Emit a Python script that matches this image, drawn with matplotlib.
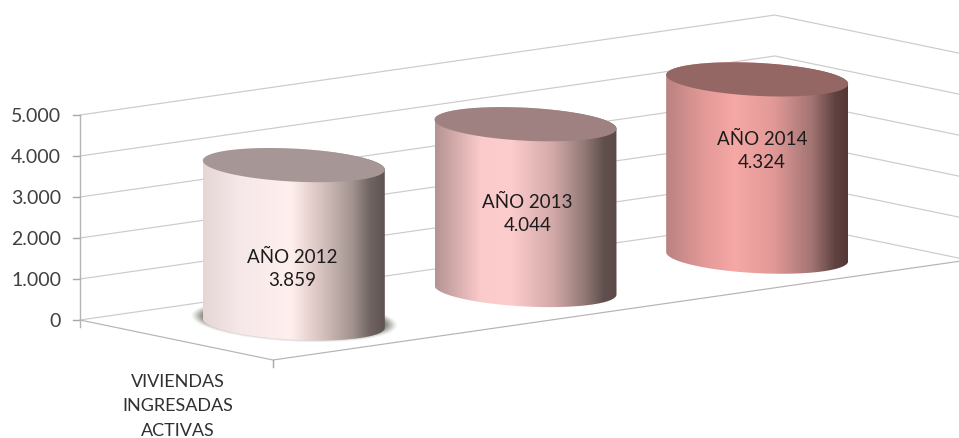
from __future__ import annotations

import matplotlib
matplotlib.use("Agg")
import matplotlib.pyplot as plt
import numpy as np
from matplotlib.colors import LinearSegmentedColormap
from matplotlib.patches import Ellipse, PathPatch
from matplotlib.path import Path

SERIES = ["AÑO 2012", "AÑO 2013", "AÑO 2014"]
VALUES = [3859, 4044, 4324]
CATEGORY = "VIVIENDAS\nINGRESADAS\nACTIVAS"
TICKS = [0, 1000, 2000, 3000, 4000, 5000]
TICK_LABELS = ["0", "1.000", "2.000", "3.000", "4.000", "5.000"]

# picture geometry of the 3D box, in pixels
ORIGIN = np.array([80.0, 321.0])
WIDTH_DIR = np.array([695.0, -100.0])
DEPTH_DIR = np.array([193.0, 40.0])
PX_PER_UNIT = 205.0 / 5000.0
RADIUS_X = 91.0
RADIUS_Y = 16.5
TILT = 0.05
CYLINDER_NUDGE = np.array([1.5, 0.0])
GRID = "#cbcbcb"

BODY_STOPS = [
    [(0, "#e6d6d6"), (0.2, "#f6e8e8"), (0.48, "#fff0ee"), (0.65, "#d8c2c0"),
     (0.82, "#a39490"), (0.92, "#6f6461"), (1, "#5f5451")],
    [(0, "#b59393"), (0.25, "#fbcaca"), (0.42, "#fdcccc"), (0.65, "#d3a9a8"),
     (0.82, "#937a77"), (0.93, "#60504d"), (1, "#5c4a48")],
    [(0, "#b98280"), (0.2, "#e29997"), (0.38, "#f6a8a6"), (0.6, "#e09896"),
     (0.8, "#a37573"), (0.93, "#5f4341"), (1, "#553836")],
]
TOP_COLORS = ["#a69696", "#9e8180", "#946664"]
LABEL_SHIFT_X = [-2, 2, 5]
LABEL_SHIFT_Y = [24, 6, -18]


def project(u: float, d: float, value: float = 0.0) -> np.ndarray:
    return ORIGIN + u * WIDTH_DIR + d * DEPTH_DIR - np.array([0.0, value * PX_PER_UNIT])


def ellipse_arc(center: np.ndarray, start: float, stop: float) -> np.ndarray:
    t = np.linspace(start, stop, 90)
    x = center[0] + RADIUS_X * np.cos(t)
    y = center[1] + RADIUS_Y * np.sin(t) + TILT * RADIUS_X * np.cos(t)
    return np.column_stack([x, y])


def draw_grid(ax) -> None:
    for value in TICKS:
        left = project(0, 0, value)
        corner = project(1, 0, value)
        right = project(1, 1, value)
        ax.plot([left[0], corner[0], right[0]], [left[1], corner[1], right[1]],
                color=GRID, lw=0.85, zorder=1)
        ax.plot([left[0] - 7, left[0]], [left[1], left[1]], color="#a8a8a8", lw=1.0, zorder=1)
    front = project(0, 1)
    ax.plot([project(0, 0)[0], front[0], project(1, 1)[0]],
            [project(0, 0)[1], front[1], project(1, 1)[1]],
            color="#b4b4b4", lw=0.85, zorder=1)
    ax.plot([front[0], front[0]], [front[1], front[1] + 7], color="#a8a8a8", lw=1.0, zorder=1)
    ax.plot([ORIGIN[0], ORIGIN[0]],
            [project(0, 0, 5000)[1], ORIGIN[1] + 7], color="#b4b4b4", lw=1.0, zorder=1)


def draw_cylinder(ax, index: int) -> None:
    u = (index + 0.5) / len(VALUES)
    value = VALUES[index]
    base = project(u, 0.5) + CYLINDER_NUDGE
    top = project(u, 0.5, value) + CYLINDER_NUDGE

    body = np.vstack([
        ellipse_arc(base, np.pi, 0),
        ellipse_arc(top, 0, -np.pi),
    ])
    body = np.vstack([body, body[0]])
    cmap = LinearSegmentedColormap.from_list(f"body{index}", BODY_STOPS[index])
    image = ax.imshow(
        np.linspace(0, 1, 256).reshape(1, -1),
        cmap=cmap,
        extent=(base[0] - RADIUS_X, base[0] + RADIUS_X, base[1] + RADIUS_Y + 8, top[1] - RADIUS_Y - 8),
        aspect="auto",
        zorder=3,
    )
    patch = PathPatch(Path(body), transform=ax.transData, facecolor="none", edgecolor="none")
    ax.add_patch(patch)
    image.set_clip_path(patch)

    cap = ellipse_arc(top, 0, 2 * np.pi)
    ax.fill(cap[:, 0], cap[:, 1], color=TOP_COLORS[index], lw=0, zorder=4)

    middle = (base[1] + top[1]) / 2 + LABEL_SHIFT_Y[index]
    ax.text(base[0] + LABEL_SHIFT_X[index], middle, f"{SERIES[index]}\n{value / 1000:.3f}",
            ha="center", va="center", fontsize=13.5, color="#1c1c1c",
            linespacing=1.4, zorder=5)


def main() -> None:
    plt.rcParams["font.family"] = ["Lato", "DejaVu Sans"]

    fig = plt.figure(figsize=(9.59, 4.39), dpi=100)
    ax = fig.add_axes([0, 0, 1, 1])
    ax.axis("off")

    draw_grid(ax)

    # soft shadow only sits under the first cylinder
    shadow = project(0.5 / 3, 0.5)
    for grow, alpha in zip(np.linspace(12, 0, 8), np.linspace(0.06, 0.24, 8)):
        ax.add_patch(Ellipse((shadow[0] + 2, shadow[1] - 3), 2 * (RADIUS_X + grow),
                             2 * (RADIUS_Y + grow * 0.4), angle=np.degrees(TILT),
                             facecolor="#55554a", alpha=alpha, lw=0, zorder=2))

    for index in range(len(VALUES)):
        draw_cylinder(ax, index)

    for value, label in zip(TICKS, TICK_LABELS):
        ax.text(61, project(0, 0, value)[1] + 1, label, ha="right", va="center",
                fontsize=14, color="#404040")

    ax.text(178, 406.5, CATEGORY, ha="center", va="center", fontsize=13,
            color="#303030", linespacing=1.68)

    ax.set_xlim(0, 959)
    ax.set_ylim(439, 0)
    fig.savefig("out.png", dpi=100, facecolor="white")
    plt.close(fig)


if __name__ == "__main__":
    main()
